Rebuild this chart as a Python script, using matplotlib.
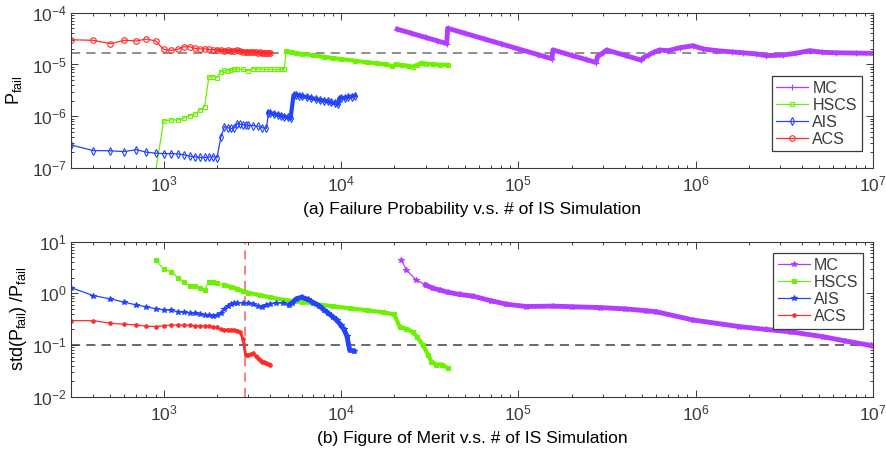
import matplotlib.pyplot as plt
from matplotlib.ticker import LogLocator

plt.rcParams['font.family'] = ['Liberation Sans', 'DejaVu Sans']
plt.rcParams['mathtext.default'] = 'regular'
plt.rcParams['font.size'] = 12
plt.rcParams['text.color'] = '#3a3a3a'
plt.rcParams['axes.edgecolor'] = '#3a3a3a'
plt.rcParams['xtick.color'] = '#3a3a3a'
plt.rcParams['ytick.color'] = '#3a3a3a'

# ---- (a) failure probability estimates ----
mc_n = [20800, 25000, 30000, 35000, 39500, 40000, 50000, 65000, 80000, 100000,
        130000, 155000, 157000, 200000, 240000, 275000, 280000, 300000, 315000,
        400000, 494000, 510000, 540000, 580000, 627000, 700000, 813000, 967000,
        1.1e6, 1.31e6, 1.6e6, 1.85e6, 2.2e6, 2.5e6, 3.1e6, 3.7e6, 4.4e6, 5.2e6,
        6.2e6, 8e6, 1e7]
mc_p = [4.8e-5, 4.0e-5, 3.33e-5, 2.86e-5, 2.53e-5, 5.0e-5, 4.0e-5, 3.08e-5, 2.5e-5, 2.0e-5,
        1.54e-5, 1.29e-5, 1.91e-5, 1.5e-5, 1.25e-5, 1.09e-5, 1.43e-5, 1.67e-5, 1.9e-5,
        1.5e-5, 1.21e-5, 1.37e-5, 1.5e-5, 1.72e-5, 1.9e-5, 1.85e-5, 2.1e-5, 2.3e-5,
        2.0e-5, 1.85e-5, 1.75e-5, 1.68e-5, 1.6e-5, 1.48e-5, 1.52e-5, 1.65e-5, 1.85e-5, 1.72e-5,
        1.68e-5, 1.66e-5, 1.64e-5]

hscs_n = [900, 1000, 1100, 1200, 1300, 1400, 1500, 1600, 1700, 1800, 1900, 2000,
          2100, 2200, 2300, 2400, 2500, 2600, 2800, 3000, 3200, 3400, 3600, 3800,
          4000, 4200, 4400, 4600, 4800, 4900, 5200, 5600, 6000, 7000, 8000, 9000,
          10000, 12000, 14000, 16000, 18000, 19500, 20500, 22000, 24000, 25500,
          27000, 28500, 30000, 33000, 36000, 40000]
hscs_p = [8.5e-8, 8.1e-7, 8.5e-7, 8.5e-7, 9.1e-7, 1.03e-6, 1.09e-6, 1.32e-6, 1.53e-6, 5.8e-6, 5.8e-6, 5.6e-6,
          7.3e-6, 7.7e-6, 7.5e-6, 7.8e-6, 8.2e-6, 8.1e-6, 8.0e-6, 7.6e-6, 8.3e-6, 8.2e-6, 8.1e-6, 8.0e-6,
          8.1e-6, 8.0e-6, 8.0e-6, 8.1e-6, 8.3e-6, 1.8e-5, 1.75e-5, 1.66e-5, 1.6e-5, 1.5e-5, 1.4e-5, 1.33e-5,
          1.27e-5, 1.18e-5, 1.1e-5, 1.05e-5, 1.0e-5, 9.2e-6, 1.0e-5, 9.8e-6, 9.4e-6, 9.1e-6,
          9.8e-6, 1.08e-5, 1.04e-5, 1.0e-5, 9.9e-6, 9.8e-6]

ais_n = [300, 400, 500, 600, 700, 800, 900, 1000, 1100, 1200, 1300, 1400, 1500,
         1600, 1700, 1800, 1900, 2000, 2100, 2200, 2300, 2400, 2500, 2600, 2700,
         2800, 2900, 3000, 3200, 3400, 3600, 3800, 3900, 4000, 4200, 4400, 4600,
         4800, 5000, 5200, 5400, 5600, 5800, 6000, 6400, 6800, 7200, 7600, 8000,
         8400, 8800, 9200, 9600, 9800, 10000, 10500, 11000, 11500, 12000]
ais_p = [2.79e-7, 2.17e-7, 2.15e-7, 2.07e-7, 2.26e-7, 2.02e-7, 1.93e-7, 1.9e-7, 1.9e-7, 1.87e-7, 1.8e-7, 1.7e-7, 1.65e-7,
         1.6e-7, 1.6e-7, 1.62e-7, 1.66e-7, 1.58e-7, 3.9e-7, 6.3e-7, 6.0e-7, 5.8e-7, 5.9e-7, 7.2e-7, 7.0e-7,
         6.8e-7, 6.8e-7, 6.7e-7, 6.6e-7, 6.4e-7, 6.0e-7, 5.8e-7, 1.18e-6, 1.15e-6, 1.1e-6, 1.06e-6, 1.02e-6,
         9.8e-7, 9.5e-7, 9.1e-7, 2.55e-6, 2.6e-6, 2.5e-6, 2.45e-6, 2.35e-6, 2.25e-6, 2.15e-6, 2.05e-6, 2.0e-6,
         1.95e-6, 1.85e-6, 1.8e-6, 1.72e-6, 2.2e-6, 2.28e-6, 2.25e-6, 2.35e-6, 2.4e-6, 2.5e-6]

acs_n = [300, 400, 500, 600, 700, 800, 900, 1000, 1100, 1200, 1300, 1400, 1500,
         1600, 1700, 1800, 1900, 2000, 2100, 2200, 2300, 2400, 2500, 2600, 2700,
         2800, 2900, 3000, 3100, 3200, 3300, 3400, 3500, 3600, 3700, 3800, 3900, 4000]
acs_p = [3.0e-5, 2.93e-5, 2.52e-5, 2.93e-5, 2.85e-5, 3.1e-5, 2.85e-5, 1.96e-5, 1.88e-5, 1.96e-5, 2.2e-5, 2.2e-5, 2.05e-5,
         2.0e-5, 2.0e-5, 1.95e-5, 1.93e-5, 1.9e-5, 1.88e-5, 1.86e-5, 1.87e-5, 1.85e-5, 1.82e-5, 1.9e-5, 1.84e-5,
         1.78e-5, 1.76e-5, 1.75e-5, 1.74e-5, 1.73e-5, 1.72e-5, 1.70e-5, 1.71e-5, 1.68e-5, 1.67e-5, 1.68e-5, 1.66e-5, 1.65e-5]

p_ref = 1.64e-5

# ---- (b) figure of merit std(P)/P ----
mc_fn = [21900, 23400, 26500, 30000, 33000, 36000, 40000, 46700, 55600, 70000,
         85700, 111000, 157000, 200000, 288000, 400000, 527000, 600000, 966000,
         1.77e6, 2.5e6, 3.4e6, 5.23e6, 7e6, 9.8e6, 1e7]
mc_fom = [4.43, 2.84, 1.82, 1.45, 1.25, 1.16, 1.05, 0.95, 0.88, 0.72,
          0.615, 0.555, 0.565, 0.55, 0.53, 0.5, 0.46, 0.44, 0.305,
          0.227, 0.2, 0.181, 0.145, 0.12, 0.098, 0.097]

hscs_fn = [900, 1000, 1100, 1200, 1300, 1400, 1500, 1600, 1700, 1800, 1900, 2000,
           2200, 2400, 2600, 2800, 3000, 3500, 4000, 4700, 5500, 6000, 7270, 9000,
           11200, 14000, 17250, 20000, 21400, 23400, 25400, 27000, 29000, 31000,
           32400, 34500, 37200, 40000]
hscs_fom = [4.43, 2.93, 2.63, 2.01, 1.68, 1.41, 1.36, 1.29, 1.16, 1.68, 1.68, 1.57,
            1.45, 1.33, 1.22, 1.1, 1.02, 0.92, 0.83, 0.75, 0.7, 0.68, 0.62, 0.56,
            0.514, 0.47, 0.43, 0.39, 0.227, 0.205, 0.18, 0.14, 0.1, 0.065,
            0.048, 0.042, 0.042, 0.036]

ais_fn = [300, 400, 500, 600, 700, 800, 900, 1000, 1100, 1200, 1300, 1400, 1500,
          1600, 1700, 1800, 1900, 2000, 2100, 2200, 2300, 2400, 2500, 2600, 2800,
          3000, 3200, 3400, 3600, 3800, 4000, 4300, 4700, 5100, 5300, 5600, 6000,
          6500, 7000, 7500, 8000, 8500, 9000, 9500, 10000, 10400, 10800, 11200, 11800]
ais_fom = [1.29, 0.904, 0.78, 0.672, 0.597, 0.546, 0.506, 0.484, 0.47, 0.443, 0.43, 0.42, 0.41,
           0.40, 0.382, 0.377, 0.37, 0.377, 0.41, 0.5, 0.58, 0.62, 0.65, 0.66, 0.66,
           0.64, 0.62, 0.58, 0.55, 0.6, 0.63, 0.66, 0.64, 0.6, 0.65, 0.78, 0.84,
           0.76, 0.66, 0.58, 0.48, 0.41, 0.35, 0.3, 0.24, 0.2, 0.15, 0.08, 0.077]

acs_fom = [0.296, 0.296, 0.264, 0.252, 0.245, 0.231, 0.228, 0.235, 0.245, 0.245, 0.243, 0.24, 0.238,
           0.235, 0.232, 0.23, 0.228, 0.225, 0.2, 0.196, 0.196, 0.195, 0.194, 0.19, 0.18,
           0.13, 0.065, 0.064, 0.066, 0.069, 0.062, 0.056, 0.051, 0.048, 0.046, 0.045, 0.043, 0.042]

fom_target = 0.1
acs_stop = 2880

MC_C = '#b23cff'
HSCS_C = '#6cf200'
AIS_C = '#2343ff'
ACS_C = '#ff2b2b'


def draw(ax, n, v, color, marker, label, ms, mfc, band_from=None, band_lw=3.0):
    line, = ax.plot(n, v, color=color, lw=0.9, marker=marker, ms=ms, mfc=mfc,
                    mec=color, mew=0.8, label=label)
    if band_from is not None:
        # dense part of the run reads as a thick band
        i = next(k for k, x in enumerate(n) if x >= band_from)
        ax.plot(n[i:], v[i:], color=color, lw=band_lw, solid_joinstyle='round')
    return line


def style_axes(ax, ylim):
    ax.set_xscale('log')
    ax.set_yscale('log')
    ax.set_xlim(300, 1e7)
    ax.set_ylim(*ylim)
    ax.yaxis.set_minor_locator(LogLocator(base=10, subs=range(2, 10), numticks=20))
    ax.xaxis.set_minor_locator(LogLocator(base=10, subs=range(2, 10), numticks=20))
    ax.tick_params(which='both', direction='in', top=True, right=True, width=0.7)
    ax.tick_params(which='major', length=5, labelsize=12.5)
    ax.tick_params(which='minor', length=2.5)
    ax.tick_params(axis='x', pad=5)
    ax.tick_params(axis='y', pad=3)
    for s in ax.spines.values():
        s.set_linewidth(0.8)


def add_legend(ax, handles, anchor):
    leg = ax.legend(handles=handles, loc='upper right', bbox_to_anchor=anchor,
                    fancybox=False, framealpha=1, edgecolor='#3a3a3a', fontsize=11.5,
                    handlelength=2.0, handletextpad=0.25, labelspacing=0.12,
                    borderpad=0.3, borderaxespad=0)
    leg.get_frame().set_linewidth(0.9)
    return leg


fig = plt.figure(figsize=(8.87, 4.54), dpi=100)
ax1 = fig.add_axes([0.080, 0.630, 0.904, 0.342])
ax2 = fig.add_axes([0.080, 0.126, 0.904, 0.342])

# (a)
ax1.axhline(p_ref, color='#707070', lw=1.1, ls=(0, (6, 4)), zorder=1)
h_mc = draw(ax1, mc_n, mc_p, MC_C, '+', 'MC', 5, MC_C, band_from=0, band_lw=3.5)
h_hs = draw(ax1, hscs_n, hscs_p, HSCS_C, 's', 'HSCS', 3, 'none', band_from=4900)
h_ais = draw(ax1, ais_n, ais_p, AIS_C, 'd', 'AIS', 4, 'none', band_from=3900)
h_acs = draw(ax1, acs_n, acs_p, ACS_C, 'o', 'ACS', 4, 'none', band_from=2000, band_lw=2.5)
style_axes(ax1, (1e-7, 1e-4))
ax1.set_xlabel('(a) Failure Probability v.s. # of IS Simulation', fontsize=12.5, labelpad=5)
ax1.set_ylabel('P$_{fail}$', fontsize=13)
ax1.yaxis.set_label_coords(-0.058, 0.5)
add_legend(ax1, [h_mc, h_hs, h_ais, h_acs], (0.986, 0.592))

# (b)
ax2.axhline(fom_target, color='#404040', lw=1.1, ls=(0, (6, 4)), zorder=1)
ax2.axvline(acs_stop, color='#ff5a5a', lw=1.1, ls=(0, (6, 4)), zorder=1)
g_mc = draw(ax2, mc_fn, mc_fom, MC_C, '*', 'MC', 4, MC_C, band_from=30000, band_lw=3.5)
g_hs = draw(ax2, hscs_fn, hscs_fom, HSCS_C, 's', 'HSCS', 2.5, HSCS_C, band_from=2200)
g_ais = draw(ax2, ais_fn, ais_fom, AIS_C, '*', 'AIS', 4, AIS_C, band_from=5100, band_lw=3.5)
g_acs = draw(ax2, acs_n, acs_fom, ACS_C, '.', 'ACS', 5, ACS_C, band_from=2100, band_lw=2.0)
style_axes(ax2, (1e-2, 1e1))
ax2.set_xlabel('(b) Figure of Merit v.s. # of IS Simulation', fontsize=12.5, labelpad=5)
ax2.set_ylabel('std(P$_{fail}$) /P$_{fail}$', fontsize=13)
ax2.yaxis.set_label_coords(-0.052, 0.5)
add_legend(ax2, [g_mc, g_hs, g_ais, g_acs], (0.988, 0.925))

fig.savefig('out.png', dpi=100)
